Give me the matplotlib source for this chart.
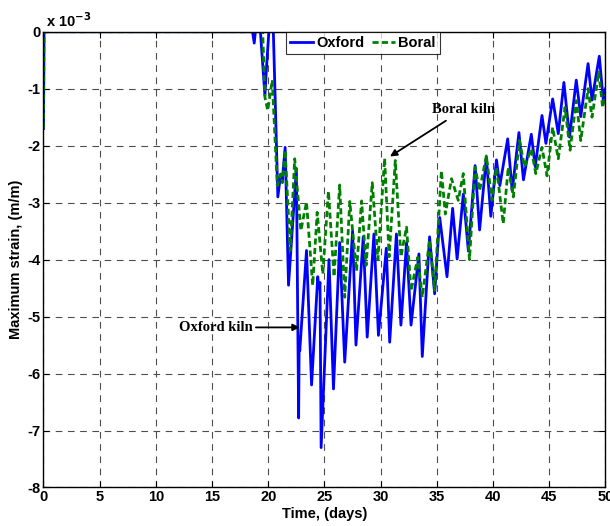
import numpy as np
import matplotlib
matplotlib.use("Agg")
import matplotlib.pyplot as plt

# strain values in units of 1e-3 (m/m), time in days
t_oxford = [0, 0.05, 18.6, 18.75, 18.85, 19.3, 19.7, 19.85, 20.05, 20.45,
            20.85, 21.1, 21.25, 21.5, 21.8, 22.5, 22.7, 22.75, 22.8, 23.4,
            23.85, 24.4, 24.5, 24.6, 24.7, 25.4, 25.8, 26.35, 26.8, 27.5,
            27.8, 28.45, 28.8, 29.4, 29.8, 30.5, 30.8, 31.4, 31.8, 32.3,
            32.7, 33.4, 33.7, 34.35, 34.8, 35.25, 35.9, 36.4, 36.8, 37.35,
            37.8, 38.4, 38.8, 39.4, 39.8, 40.3, 40.6, 41.3, 41.7, 42.3,
            42.7, 43.4, 43.75, 44.35, 44.7, 45.3, 45.8, 46.3, 46.8, 47.4,
            47.8, 48.45, 48.8, 49.45, 49.8, 50.0]
s_oxford = [-1.7, 0, 0, -0.2, 0, 0, -1.12, -0.6, 0, 0,
            -2.9, -2.5, -2.6, -2.03, -4.45, -2.4, -6.78, -5.4, -5.6, -3.84,
            -6.2, -4.3, -4.5, -4.4, -7.3, -4.0, -6.27, -3.7, -5.8, -3.5,
            -5.5, -3.6, -5.36, -3.55, -5.33, -3.8, -5.45, -3.55, -5.15, -3.7,
            -5.15, -3.9, -5.7, -3.6, -4.6, -3.26, -4.3, -3.1, -3.99, -2.85,
            -3.85, -2.35, -3.48, -2.2, -3.24, -2.25, -2.7, -1.88, -2.79, -1.77,
            -2.6, -1.8, -2.37, -1.47, -1.96, -1.18, -1.79, -0.89, -1.85, -0.85,
            -1.49, -0.56, -1.2, -0.43, -1.2, -1.0]

t_boral = [0, 0.05, 19.5, 19.7, 19.95, 20.35, 20.8, 21.1, 21.25, 21.5,
           21.95, 22.35, 22.9, 23.4, 23.95, 24.35, 24.85, 25.35, 25.85, 26.35,
           26.8, 27.25, 27.85, 28.3, 28.7, 29.25, 29.75, 30.35, 30.75, 31.3,
           31.8, 32.3, 32.7, 33.3, 33.7, 34.35, 34.8, 35.4, 35.75, 36.3,
           36.9, 37.35, 37.9, 38.4, 38.8, 39.4, 39.9, 40.3, 40.9, 41.35,
           41.8, 42.35, 42.8, 43.4, 43.8, 44.35, 44.8, 45.3, 45.8, 46.4,
           46.85, 47.4, 47.8, 48.45, 48.8, 49.4, 49.75, 50.0]
s_boral = [-1.7, 0, 0, -1.15, -1.38, -0.85, -2.7, -2.5, -2.65, -2.08,
           -3.84, -2.23, -3.49, -2.99, -4.45, -3.17, -4.25, -2.8, -4.3, -2.69,
           -4.66, -2.98, -4.2, -2.97, -4.1, -2.65, -4.0, -2.22, -3.95, -2.26,
           -3.95, -3.43, -4.55, -3.96, -4.66, -3.66, -4.54, -2.44, -3.2, -2.58,
           -2.96, -2.49, -4.0, -2.38, -2.79, -2.18, -2.96, -2.38, -3.37, -2.38,
           -2.9, -1.91, -2.37, -2.06, -2.49, -2.03, -2.53, -1.68, -2.23, -1.33,
           -2.08, -1.21, -1.91, -1.0, -1.5, -0.71, -1.33, -1.1]

xticks = np.arange(0, 51, 5)
yticks = np.arange(-8, 1, 1)

plt.rcParams['font.family'] = ['Liberation Sans', 'DejaVu Sans']
plt.rcParams['font.weight'] = 'bold'
plt.rcParams['axes.unicode_minus'] = False

fig = plt.figure(figsize=(6.1, 5.26), dpi=100)
ax = fig.add_axes([0.0713, 0.0732, 0.9213, 0.8665])

ax.plot(t_oxford, s_oxford, color='#0000ff', lw=2.0, label='Oxford')
ax.plot(t_boral, s_boral, color='#008000', lw=2.0, linestyle=(0, (2.2, 1.2)),
        label='Boral')

ax.set_xlim(0, 50)
ax.set_ylim(-8, 0)
ax.set_xticks(xticks)
ax.set_yticks(yticks)
ax.tick_params(direction='in', top=True, right=True, labelsize=10.5, length=4,
               pad=2)
for lab in ax.get_xticklabels() + ax.get_yticklabels():
    lab.set_fontweight('bold')
ax.grid(True, color='0.3', linestyle=(0, (6, 5)), linewidth=0.8)
for sp in ax.spines.values():
    sp.set_linewidth(1.0)

ax.set_xlabel('Time, (days)', fontsize=10.5, fontweight='bold', labelpad=2)
ax.set_ylabel('Maximum strain, (m/m)', fontsize=10.5, fontweight='bold',
              labelpad=3)

fig.text(46 / 610, 1 - 27 / 526, r'x 10$^{\mathbf{-3}}$', fontsize=10.5,
         fontweight='bold', va='baseline', ha='left')

leg = ax.legend(loc='upper left', bbox_to_anchor=(0.431, 1.0), ncol=2,
                borderaxespad=0, frameon=True, fancybox=False,
                prop={'weight': 'bold', 'size': 10.5}, handlelength=1.6,
                handletextpad=0.2, columnspacing=0.5, borderpad=0.3)
leg.get_frame().set_edgecolor('black')
leg.get_frame().set_linewidth(0.8)

serif = ['Liberation Serif', 'DejaVu Serif']
ax.annotate('Boral kiln', xy=(30.83, -2.19), xytext=(34.6, -1.36),
            fontsize=10.5, fontweight='bold', family=serif, va='center',
            ha='left',
            arrowprops=dict(arrowstyle='-|>', color='black', lw=1.3,
                            shrinkA=3, shrinkB=0, mutation_scale=10))
ax.annotate('Oxford kiln', xy=(22.8, -5.19), xytext=(18.65, -5.19),
            fontsize=10.5, fontweight='bold', family=serif, va='center',
            ha='right',
            arrowprops=dict(arrowstyle='-|>', color='black', lw=1.3,
                            shrinkA=0, shrinkB=0, mutation_scale=10))

fig.savefig('out.png', dpi=100)
